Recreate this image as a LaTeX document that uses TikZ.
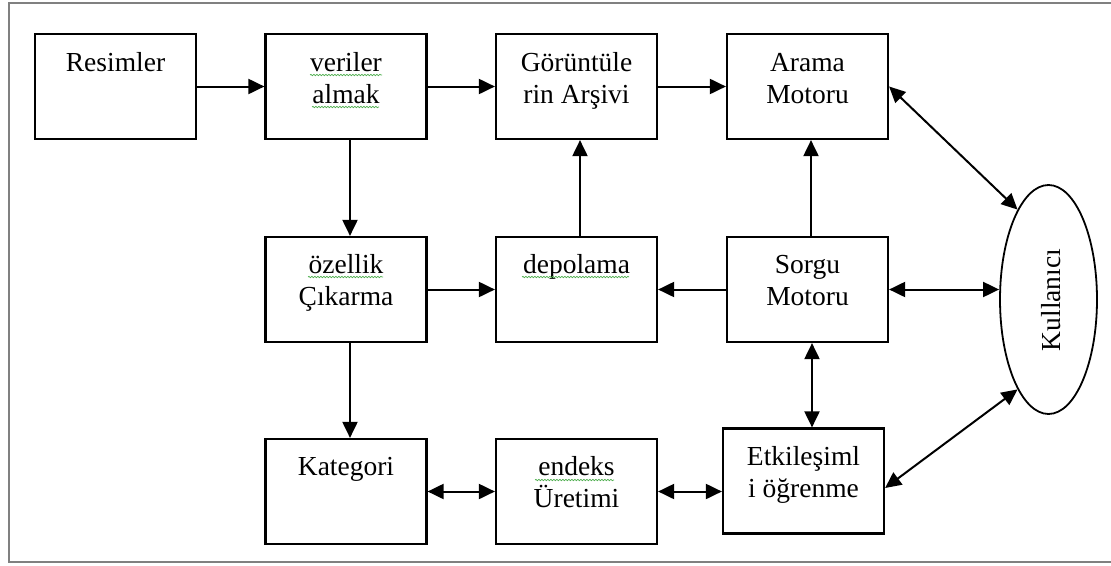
\documentclass[tikz,border=0pt]{standalone}
\usepackage{fontspec}
\setmainfont{Liberation Serif}
\usetikzlibrary{arrows.meta,shapes.geometric,decorations.pathmorphing}
\definecolor{framegray}{gray}{0.5}
\definecolor{spellgreen}{RGB}{80,175,80}

\begin{document}
\begin{tikzpicture}[x=1pt, y=-1pt, >={Triangle[length=16pt,width=15pt]},
                    box/.style={draw, line width=2.2pt, minimum width=161pt, minimum height=105pt, inner sep=0pt},
                    ell/.style={draw, ellipse, line width=1.8pt, minimum width=97pt, minimum height=229pt, inner sep=0pt},
                    lbl/.style={anchor=base, align=center, inner sep=0pt, font=\fontsize{27.5}{31.5}\selectfont},
                    conn/.style={line width=2pt},
                    squig/.style={spellgreen, line width=0.7pt, decorate,
                                  decoration={snake, amplitude=0.7pt, segment length=3pt}}]
  \useasboundingbox (0,0) rectangle (1111,565);
  \draw[framegray, line width=1.5pt] (1111,3) -| (9,562) -- (1111,562);

  \node[box] (resim) at (115.5,86.5) {};
  \node[box] (veri) at (346,86.5) {};
  \node[box] (goru) at (576.5,86.5) {};
  \node[box] (arama) at (807.5,86.5) {};
  \node[box] (ozel) at (346,289.5) {};
  \node[box] (depo) at (576.5,289.5) {};
  \node[box] (sorgu) at (807.5,289.5) {};
  \node[box] (kateg) at (346,491.5) {};
  \node[box] (endeks) at (576.5,491.5) {};
  \node[box] (etk) at (803.5,481) {};
  \node[ell] (kul) at (1048.5,299.5) {};

  % two-line labels sit on the baseline of their last line
  \node[lbl] (resim-l) at (115.5,71) {Resimler};
  \node[lbl] (veri-l) at (346,103) {veriler\\almak};
  \node[lbl] (goru-l) at (576.5,103) {Görüntüle\\rin Arşivi};
  \node[lbl] (arama-l) at (807.5,103) {Arama\\Motoru};
  \node[lbl] (ozel-l) at (346,305) {özellik\\Çıkarma};
  \node[lbl] (depo-l) at (576.5,273) {depolama};
  \node[lbl] (sorgu-l) at (807.5,305) {Sorgu\\Motoru};
  \node[lbl] (kateg-l) at (346,475) {Kategori};
  \node[lbl] (endeks-l) at (576.5,507) {endeks\\Üretimi};
  \node[lbl] (etk-l) at (803.5,497) {Etkileşiml\\i öğrenme};
  \node[lbl, rotate=90] (kul-l) at (1060,300) {Kullanıcı};

  \draw[squig] (310,75) -- (382,75);
  \draw[squig] (312,107) -- (379,107);
  \draw[squig] (308,277) -- (383,277);
  \draw[squig] (522,277) -- (629,277);
  \draw[squig] (535,480) -- (614,480);

  \draw[conn, ->] (resim) -- (veri);
  \draw[conn, ->] (veri) -- (goru);
  \draw[conn, ->] (goru) -- (arama);
  \draw[conn, ->] ([xshift=4pt]veri.south) -- ([xshift=4pt]ozel.north);
  \draw[conn, ->] ([xshift=4pt]ozel.south) -- ([xshift=4pt]kateg.north);
  \draw[conn, ->] ([xshift=3.5pt]depo.north) -- ([xshift=3.5pt]goru.south);
  \draw[conn, ->] ([xshift=3.5pt]sorgu.north) -- ([xshift=3.5pt]arama.south);
  \draw[conn, ->] (ozel) -- (depo);
  \draw[conn, ->] (sorgu) -- (depo);
  \draw[conn, <->] (sorgu.east) -- (sorgu.east -| kul.west);
  \draw[conn, <->] (kateg) -- (endeks);
  \draw[conn, <->] (endeks.east) -- (endeks.east -| etk.west);
  \draw[conn, <->] ([xshift=4.5pt]sorgu.south) -- ([xshift=4.5pt]sorgu.south |- etk.north);
  \draw[conn, <->] (arama.east) -- (kul.109);
  \draw[conn, <->] ([yshift=-7pt]etk.east) -- (kul.251);
\end{tikzpicture}
\end{document}
